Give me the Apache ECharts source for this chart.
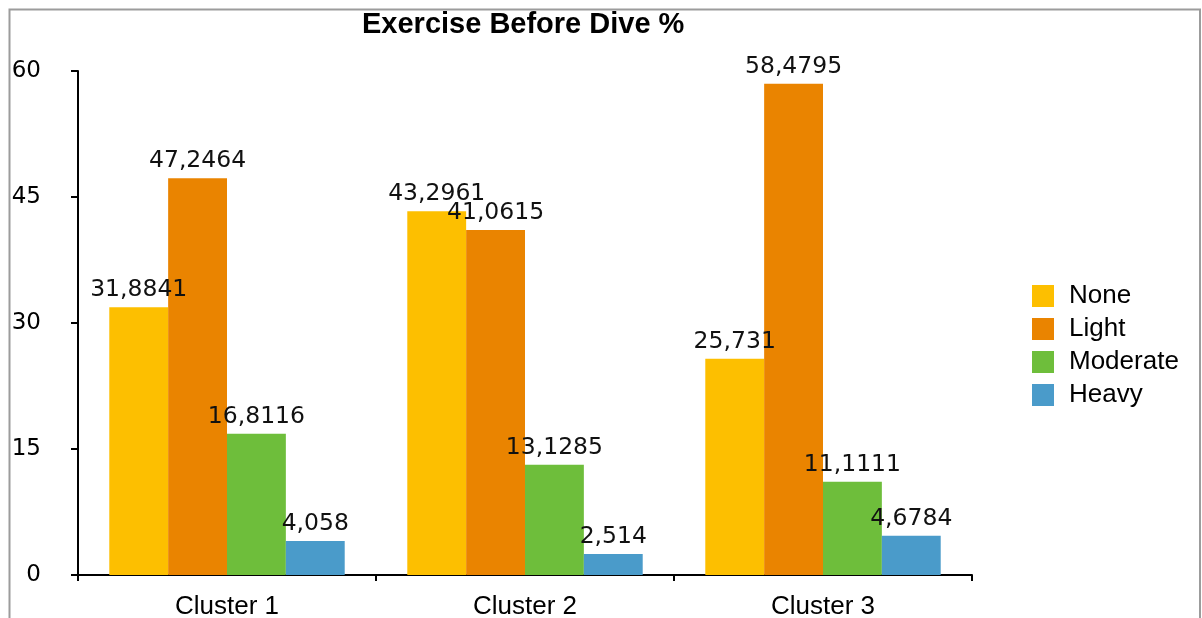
<!DOCTYPE html>
<html>
<head>
<meta charset="utf-8">
<style>
  html, body { margin: 0; padding: 0; background: #fff; }
  #chart { width: 1202px; height: 618px; }
</style>
<script src="https://cdn.jsdelivr.net/npm/echarts@6/dist/echarts.min.js"></script>
</head>
<body>
<div id="chart"></div>
<script>
// Share of divers per exercise level before the dive, by cluster (%)
const categories = ['Cluster 1', 'Cluster 2', 'Cluster 3'];
const seriesNames = ['None', 'Light', 'Moderate', 'Heavy'];
const noneValues = [31.8841, 43.2961, 25.731];
const lightValues = [47.2464, 41.0615, 58.4795];
const moderateValues = [16.8116, 13.1285, 11.1111];
const heavyValues = [4.058, 2.514, 4.6784];
const yTicks = [0, 15, 30, 45, 60];

const colors = ['#FDBF00', '#EA8400', '#6EBE3B', '#4A9BCA'];
const valueSets = [noneValues, lightValues, moderateValues, heavyValues];

const labelFont = 'DejaVu Sans';
const textFont = 'Liberation Sans';

const series = seriesNames.map((name, i) => ({
  name: name,
  type: 'bar',
  data: valueSets[i],
  barGap: '0%',
  barCategoryGap: '21%',
  itemStyle: { color: colors[i] },
  label: {
    show: true,
    position: 'top',
    distance: 5,
    color: '#111',
    fontFamily: labelFont,
    fontSize: 23.5,
    formatter: p => String(p.value).replace('.', ',')
  }
}));

const chart = echarts.init(document.getElementById('chart'), null, { renderer: 'canvas' });
chart.setOption({
  animation: false,
  backgroundColor: '#fff',
  title: {
    text: 'Exercise Before Dive %',
    left: 362,
    top: 10,
    padding: 0,
    textStyle: { fontFamily: textFont, fontWeight: 'bold', fontSize: 29, color: '#000' }
  },
  legend: {
    orient: 'vertical',
    left: 1032,
    top: 283,
    padding: 0,
    itemWidth: 22,
    itemHeight: 22,
    itemGap: 7,
    icon: 'rect',
    data: seriesNames,
    textStyle: { fontFamily: textFont, fontSize: 26, color: '#000', padding: [0, 0, 0, 10] }
  },
  grid: { left: 78, right: 230, top: 71, bottom: 43, containLabel: false, outerBoundsMode: 'none' },
  xAxis: {
    type: 'category',
    data: categories,
    axisLine: { show: true, lineStyle: { color: '#000', width: 2 } },
    axisTick: { show: true, length: 6, lineStyle: { color: '#000', width: 2 } },
    axisLabel: { fontFamily: textFont, fontSize: 26, color: '#000', margin: 19 },
    splitLine: { show: false }
  },
  yAxis: {
    type: 'value',
    min: yTicks[0],
    max: yTicks[yTicks.length - 1],
    interval: yTicks[1] - yTicks[0],
    axisLine: { show: true, lineStyle: { color: '#000', width: 2 } },
    axisTick: { show: true, length: 7, lineStyle: { color: '#000', width: 2 } },
    axisLabel: { fontFamily: labelFont, fontSize: 23, color: '#000', margin: 37, padding: [6, 0, 0, 0] },
    splitLine: { show: false }
  },
  graphic: [{
    type: 'rect',
    silent: true,
    z: 100,
    shape: { x: 9.5, y: 9.5, width: 1190.5, height: 700 },
    style: { fill: 'none', stroke: '#9c9c9c', lineWidth: 2 }
  }],
  series: series
});
</script>
</body>
</html>
